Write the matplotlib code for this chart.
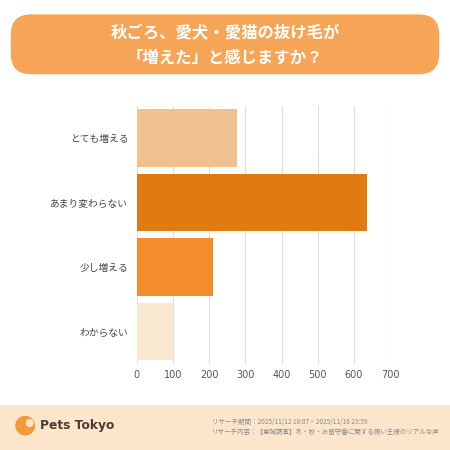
import matplotlib.pyplot as plt
from matplotlib.patches import FancyBboxPatch, Rectangle, Circle

plt.rcParams['font.family'] = ['Noto Sans CJK JP', 'DejaVu Sans']

categories = ['とても増える', 'あまり変わらない', '少し増える', 'わからない']
counts = [277, 637, 211, 100]
colors = ['#F0C08E', '#E07B12', '#F58C2C', '#FAE7CF']
xticks = [0, 100, 200, 300, 400, 500, 600, 700]

title = '秋ごろ、愛犬・愛猫の抜け毛が\n「増えた」と感じますか？'
note1 = 'リサーチ期間：2025/11/12 18:07 ~ 2025/11/16 23:59'
note2 = 'リサーチ内容：【意識調査】冬・秋・お留守番に関する飼い主様のリアルな声'

fig = plt.figure(figsize=(4.5, 4.5), dpi=100)
fig.patch.set_facecolor('white')

# title box
fig.patches.append(FancyBboxPatch((0.024, 0.835), 0.952, 0.133,
                                  boxstyle='round,pad=0,rounding_size=0.045',
                                  transform=fig.transFigure, facecolor='#F5A555',
                                  edgecolor='none'))
fig.text(0.5, 0.898, title, ha='center', va='center', color='white',
         fontsize=11.8, fontweight='bold', linespacing=1.45)

# footer band
fig.patches.append(Rectangle((0, 0), 1, 0.1, transform=fig.transFigure,
                             facecolor='#FBE6CC', edgecolor='none'))
fig.patches.append(Circle((0.056, 0.054), 0.022, transform=fig.transFigure,
                          facecolor='#F39A3A', edgecolor='none'))
fig.patches.append(Circle((0.066, 0.06), 0.009, transform=fig.transFigure,
                          facecolor='#FBE6CC', edgecolor='none'))
fig.text(0.09, 0.054, 'Pets Tokyo', ha='left', va='center', color='#4A3B35',
         fontsize=8.8, fontweight='bold', family=['DejaVu Sans'])
fig.text(0.47, 0.062, note1, ha='left', va='center', color='#8A8A8A', fontsize=4.7)
fig.text(0.47, 0.039, note2, ha='left', va='center', color='#8A8A8A', fontsize=4.7)

ax = fig.add_axes([0.304, 0.191, 0.563, 0.574])
y = range(len(categories))
ax.barh(y, counts, height=0.89, color=colors, zorder=2)
ax.set_yticks(list(y))
ax.set_yticklabels(categories, fontsize=7, color='#444444')
ax.set_ylim(3.5, -0.5)
ax.set_xlim(0, 700)
ax.set_xticks(xticks)
ax.set_xticklabels([str(v) for v in xticks], fontsize=7, color='#555555',
                   family=['DejaVu Sans'])
ax.grid(axis='x', color='#DDDDDD', linewidth=0.8, zorder=0)
for s in ax.spines.values():
    s.set_visible(False)
ax.tick_params(length=0, pad=6)
ax.tick_params(axis='x', pad=4)

fig.savefig('out.png', dpi=100, facecolor='white')
